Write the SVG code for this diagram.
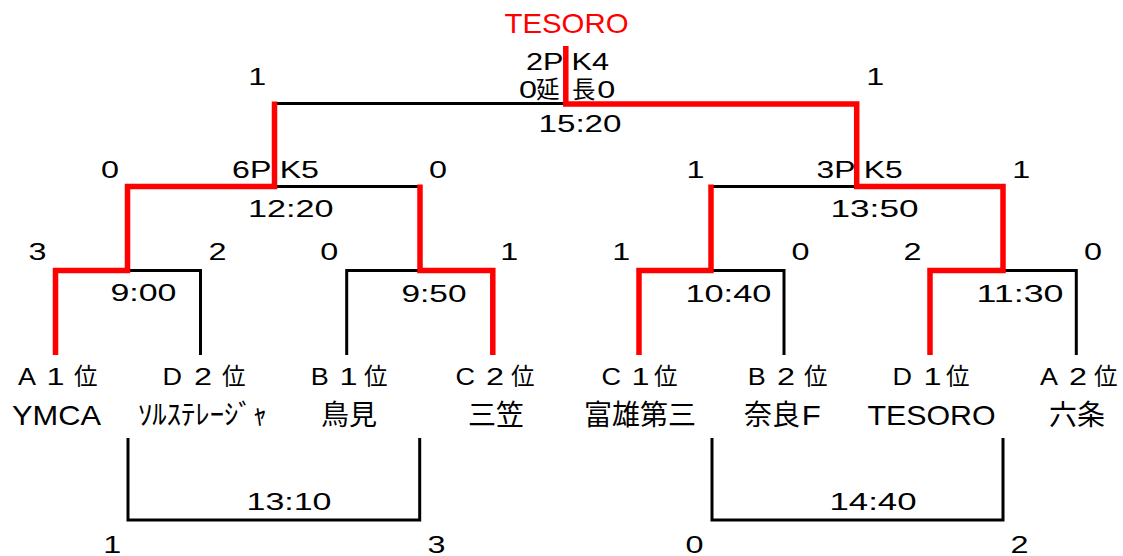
<svg xmlns="http://www.w3.org/2000/svg" width="1123" height="556" viewBox="0 0 1123 556">
<style>
.ln{fill:none;stroke:#000;stroke-width:3;stroke-linejoin:miter;stroke-linecap:butt}
.win{fill:none;stroke:#f00;stroke-width:5.5;stroke-linejoin:miter;stroke-linecap:butt}
text{font-family:"Liberation Sans",Arial,"Noto Sans CJK JP",sans-serif;font-size:23.5px;fill:#000}
.n{font-size:28px}
.m{text-anchor:middle}
.red{fill:#f00}
</style>
<rect width="1123" height="556" fill="#fff"/>
<g id="connectors">
<path class="ln" d="M274.5,103.5H565.8"/>
<path class="ln" d="M274.5,186.5H420"/>
<path class="ln" d="M711,186.5H856.7"/>
<path class="ln" d="M127.5,270.5H200.5V355"/>
<path class="ln" d="M346.7,355V270.5H420"/>
<path class="ln" d="M711,270.5H784V355"/>
<path class="ln" d="M1003,270.5H1076.3V355"/>
<path class="ln" d="M128,438V520H419.7V438"/>
<path class="ln" d="M712,438V520H1003V438"/>
<path class="win" d="M55.5,355V270.5H127.5V186.5H274.5V101.5"/>
<path class="win" d="M492.8,355V270.5H420V184.5"/>
<path class="win" d="M639,355V270.5H711V184.5"/>
<path class="win" d="M930,355V270.5H1003V186.5H856.7V104H565.8V46"/>
</g>
<g id="champion">
<text class="n m red" x="566.5" y="33" textLength="124" lengthAdjust="spacingAndGlyphs">TESORO</text>
</g>
<g id="match-final">
<text class="m" x="567.5" y="70" textLength="83" lengthAdjust="spacingAndGlyphs">2P K4</text>
<text y="98.3"><tspan x="519" textLength="18" lengthAdjust="spacingAndGlyphs">0</tspan><tspan x="536">延</tspan><tspan x="572">長</tspan><tspan x="597.3" textLength="18" lengthAdjust="spacingAndGlyphs">0</tspan></text>
<text class="m" x="580" y="131.5" textLength="83" lengthAdjust="spacingAndGlyphs">15:20</text>
<text class="m" x="257.2" y="85" textLength="18" lengthAdjust="spacingAndGlyphs">1</text>
<text class="m" x="875.2" y="85" textLength="18" lengthAdjust="spacingAndGlyphs">1</text>
</g>
<g id="match-semi-left">
<text class="m" x="275.5" y="178" textLength="87" lengthAdjust="spacingAndGlyphs">6P K5</text>
<text class="m" x="290.8" y="217" textLength="85.5" lengthAdjust="spacingAndGlyphs">12:20</text>
<text class="m" x="110" y="178" textLength="18" lengthAdjust="spacingAndGlyphs">0</text>
<text class="m" x="438" y="178" textLength="18" lengthAdjust="spacingAndGlyphs">0</text>
</g>
<g id="match-semi-right">
<text class="m" x="859.6" y="178" textLength="86" lengthAdjust="spacingAndGlyphs">3P K5</text>
<text class="m" x="874.5" y="217" textLength="88" lengthAdjust="spacingAndGlyphs">13:50</text>
<text class="m" x="695.4" y="178" textLength="18" lengthAdjust="spacingAndGlyphs">1</text>
<text class="m" x="1021.2" y="178" textLength="18" lengthAdjust="spacingAndGlyphs">1</text>
</g>
<g id="match-qf1">
<text class="m" x="143.4" y="301" textLength="66" lengthAdjust="spacingAndGlyphs">9:00</text>
<text class="m" x="37.5" y="260" textLength="18" lengthAdjust="spacingAndGlyphs">3</text>
<text class="m" x="217.5" y="260" textLength="18" lengthAdjust="spacingAndGlyphs">2</text>
</g>
<g id="match-qf2">
<text class="m" x="434" y="301.5" textLength="65" lengthAdjust="spacingAndGlyphs">9:50</text>
<text class="m" x="329.2" y="260" textLength="18" lengthAdjust="spacingAndGlyphs">0</text>
<text class="m" x="509.2" y="260" textLength="18" lengthAdjust="spacingAndGlyphs">1</text>
</g>
<g id="match-qf3">
<text class="m" x="728.4" y="301.5" textLength="86" lengthAdjust="spacingAndGlyphs">10:40</text>
<text class="m" x="621.2" y="260" textLength="18" lengthAdjust="spacingAndGlyphs">1</text>
<text class="m" x="800.5" y="260" textLength="18" lengthAdjust="spacingAndGlyphs">0</text>
</g>
<g id="match-qf4">
<text class="m" x="1020" y="301.5" textLength="87" lengthAdjust="spacingAndGlyphs">11:30</text>
<text class="m" x="912.5" y="260" textLength="18" lengthAdjust="spacingAndGlyphs">2</text>
<text class="m" x="1093" y="260" textLength="18" lengthAdjust="spacingAndGlyphs">0</text>
</g>
<g id="match-extra-left">
<text class="m" x="289" y="510" textLength="85" lengthAdjust="spacingAndGlyphs">13:10</text>
<text class="m" x="112.2" y="553" textLength="18" lengthAdjust="spacingAndGlyphs">1</text>
<text class="m" x="436.5" y="553" textLength="18" lengthAdjust="spacingAndGlyphs">3</text>
</g>
<g id="match-extra-right">
<text class="m" x="873" y="510" textLength="87" lengthAdjust="spacingAndGlyphs">14:40</text>
<text class="m" x="694.5" y="553" textLength="18" lengthAdjust="spacingAndGlyphs">0</text>
<text class="m" x="1019.5" y="553" textLength="18" lengthAdjust="spacingAndGlyphs">2</text>
</g>
<g id="team-a1">
<text y="384.5"><tspan x="18" textLength="18" lengthAdjust="spacingAndGlyphs">A</tspan><tspan x="46.5" textLength="18" lengthAdjust="spacingAndGlyphs">1</tspan><tspan x="74">位</tspan></text>
<text class="n m" x="56.5" y="425" textLength="89" lengthAdjust="spacingAndGlyphs">YMCA</text>
</g>
<g id="team-d2">
<text y="384.5"><tspan x="162.6" textLength="19.5" lengthAdjust="spacingAndGlyphs">D</tspan><tspan x="194" textLength="18" lengthAdjust="spacingAndGlyphs">2</tspan><tspan x="222">位</tspan></text>
<text class="n m" x="202.5" y="425" textLength="129" lengthAdjust="spacingAndGlyphs">ｿﾙｽﾃﾚｰｼﾞｬ</text>
</g>
<g id="team-b1">
<text y="384.5"><tspan x="310.8" textLength="18" lengthAdjust="spacingAndGlyphs">B</tspan><tspan x="339.5" textLength="18" lengthAdjust="spacingAndGlyphs">1</tspan><tspan x="364">位</tspan></text>
<text class="n m" x="349" y="425">鳥見</text>
</g>
<g id="team-c2">
<text y="384.5"><tspan x="455.6" textLength="19.5" lengthAdjust="spacingAndGlyphs">C</tspan><tspan x="486" textLength="18" lengthAdjust="spacingAndGlyphs">2</tspan><tspan x="511">位</tspan></text>
<text class="n m" x="496" y="425">三笠</text>
</g>
<g id="team-c1">
<text y="384.5"><tspan x="601.6" textLength="19.5" lengthAdjust="spacingAndGlyphs">C</tspan><tspan x="631.5" textLength="18" lengthAdjust="spacingAndGlyphs">1</tspan><tspan x="654">位</tspan></text>
<text class="n m" x="640" y="425">富雄第三</text>
</g>
<g id="team-b2">
<text y="384.5"><tspan x="747.8" textLength="18" lengthAdjust="spacingAndGlyphs">B</tspan><tspan x="777" textLength="18" lengthAdjust="spacingAndGlyphs">2</tspan><tspan x="804">位</tspan></text>
<text class="n" y="425"><tspan x="744">奈良</tspan><tspan x="801.7" textLength="19" lengthAdjust="spacingAndGlyphs">F</tspan></text>
</g>
<g id="team-d1">
<text y="384.5"><tspan x="892.6" textLength="19.5" lengthAdjust="spacingAndGlyphs">D</tspan><tspan x="923.5" textLength="18" lengthAdjust="spacingAndGlyphs">1</tspan><tspan x="946">位</tspan></text>
<text class="n m" x="931.5" y="425" textLength="128" lengthAdjust="spacingAndGlyphs">TESORO</text>
</g>
<g id="team-a2">
<text y="384.5"><tspan x="1040" textLength="18" lengthAdjust="spacingAndGlyphs">A</tspan><tspan x="1069" textLength="18" lengthAdjust="spacingAndGlyphs">2</tspan><tspan x="1094">位</tspan></text>
<text class="n m" x="1077" y="425">六条</text>
</g>
</svg>
